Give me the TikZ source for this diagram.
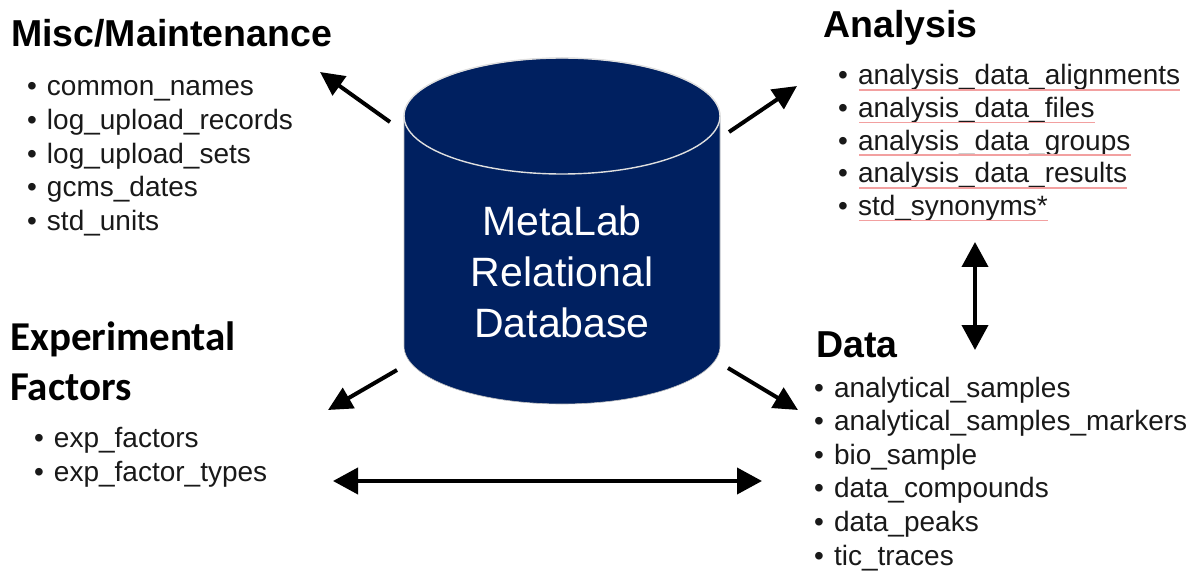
\documentclass[tikz,border=0pt]{standalone}
\usepackage{fontspec}
\setmainfont{Liberation Sans}
\newfontfamily\calfont{Carlito}
\usetikzlibrary{arrows.meta}

\definecolor{dbblue}{HTML}{002060}
\definecolor{spellred}{HTML}{F2A0A0}

\newcommand{\headfont}{\bfseries\fontsize{37.5}{44}\selectfont}
\newcommand{\expfont}{\calfont\bfseries\fontsize{41}{50}\selectfont}
\newcommand{\entryfont}{\fontsize{28}{33}\selectfont}
\newcommand{\dbfont}{\fontsize{41}{51}\selectfont}
\newcommand{\bul}{\textbullet\hspace{10pt}}

\tikzset{
  head/.style={font=\headfont, anchor=base west, inner sep=0pt},
  exphead/.style={font=\expfont, anchor=base west, inner sep=0pt},
  entry/.style={font=\entryfont, anchor=base west, inner sep=0pt, text=black!90},
  link/.style={line width=4pt, -{Triangle[length=24pt,width=23pt]}},
  twoway/.style={line width=4pt, {Triangle[length=25pt,width=26pt]}-{Triangle[length=25pt,width=26pt]}},
  spell/.style={spellred, line width=1.6pt}
}

\begin{document}
\begin{tikzpicture}[x=1pt,y=-1pt]
    \useasboundingbox (0,0) rectangle (1192,572);

    % database cylinder
    \fill[dbblue, draw=gray!50, line width=0.6pt] (404,116) -- (404,346)
        arc[start angle=180, end angle=360, x radius=158pt, y radius=58pt]
        -- (720,116)
        arc[start angle=0, end angle=180, x radius=158pt, y radius=58pt] -- cycle;
    \draw[gray!25, line width=1.4pt] (562,116) ellipse[x radius=158pt, y radius=58pt];
    \node[font=\dbfont, text=white, align=center, inner sep=0pt] (db) at (562,272)
        {MetaLab\\Relational\\Database};

    % Misc/Maintenance
    \node[head] (misc) at (11,47) {Misc/Maintenance};
    \node[entry] (misc1) at (27,96) {\bul common\_names};
    \node[entry] (misc2) at (27,130) {\bul log\_upload\_records};
    \node[entry] (misc3) at (27,164) {\bul log\_upload\_sets};
    \node[entry] (misc4) at (27,197) {\bul gcms\_dates};
    \node[entry] (misc5) at (27,231) {\bul std\_units};

    % Analysis
    \node[head] (ana) at (823,38) {Analysis};
    \node[entry] (ana1) at (838,85) {\bul analysis\_data\_alignments};
    \node[entry] (ana2) at (838,117.6) {\bul analysis\_data\_files};
    \node[entry] (ana3) at (838,150.2) {\bul analysis\_data\_groups};
    \node[entry] (ana4) at (838,182.8) {\bul analysis\_data\_results};
    \node[entry] (ana5) at (838,215.4) {\bul std\_synonyms*};
    \foreach \i in {1,...,5}
        \draw[spell] ([xshift=21pt,yshift=-5pt]ana\i.base west) -- ([yshift=-5pt]ana\i.base east);

    % Experimental Factors
    \node[exphead] (exp) at (10,350) {Experimental};
    \node[exphead] (expb) at (10,400) {Factors};
    \node[entry] (exp1) at (34,447) {\bul exp\_factors};
    \node[entry] (exp2) at (34,481) {\bul exp\_factor\_types};

    % Data
    \node[head] (data) at (816,357) {Data};
    \node[entry] (data1) at (814,397) {\bul analytical\_samples};
    \node[entry] (data2) at (814,430.6) {\bul analytical\_samples\_markers};
    \node[entry] (data3) at (814,464.2) {\bul bio\_sample};
    \node[entry] (data4) at (814,497.8) {\bul data\_compounds};
    \node[entry] (data5) at (814,531.4) {\bul data\_peaks};
    \node[entry] (data6) at (814,565) {\bul tic\_traces};

    % arrow ends
    \coordinate (dbNW) at (390,122);
    \coordinate (dbNE) at (729,132);
    \coordinate (dbSW) at (397,370);
    \coordinate (dbSE) at (728,368);
    \coordinate (toMisc) at (320,72);
    \coordinate (toAna) at (797,86);
    \coordinate (toExp) at (328,410);
    \coordinate (toData) at (798,410);
    \coordinate (anaLow) at (975,242);
    \coordinate (dataHigh) at (975,350);
    \coordinate (expRight) at (333,481);
    \coordinate (dataLeft) at (762,481);

    \draw[link] (dbNW) -- (toMisc);
    \draw[link] (dbNE) -- (toAna);
    \draw[link] (dbSW) -- (toExp);
    \draw[link] (dbSE) -- (toData);
    \draw[twoway] (anaLow) -- (dataHigh);
    \draw[twoway] (expRight) -- (dataLeft);
\end{tikzpicture}
\end{document}
